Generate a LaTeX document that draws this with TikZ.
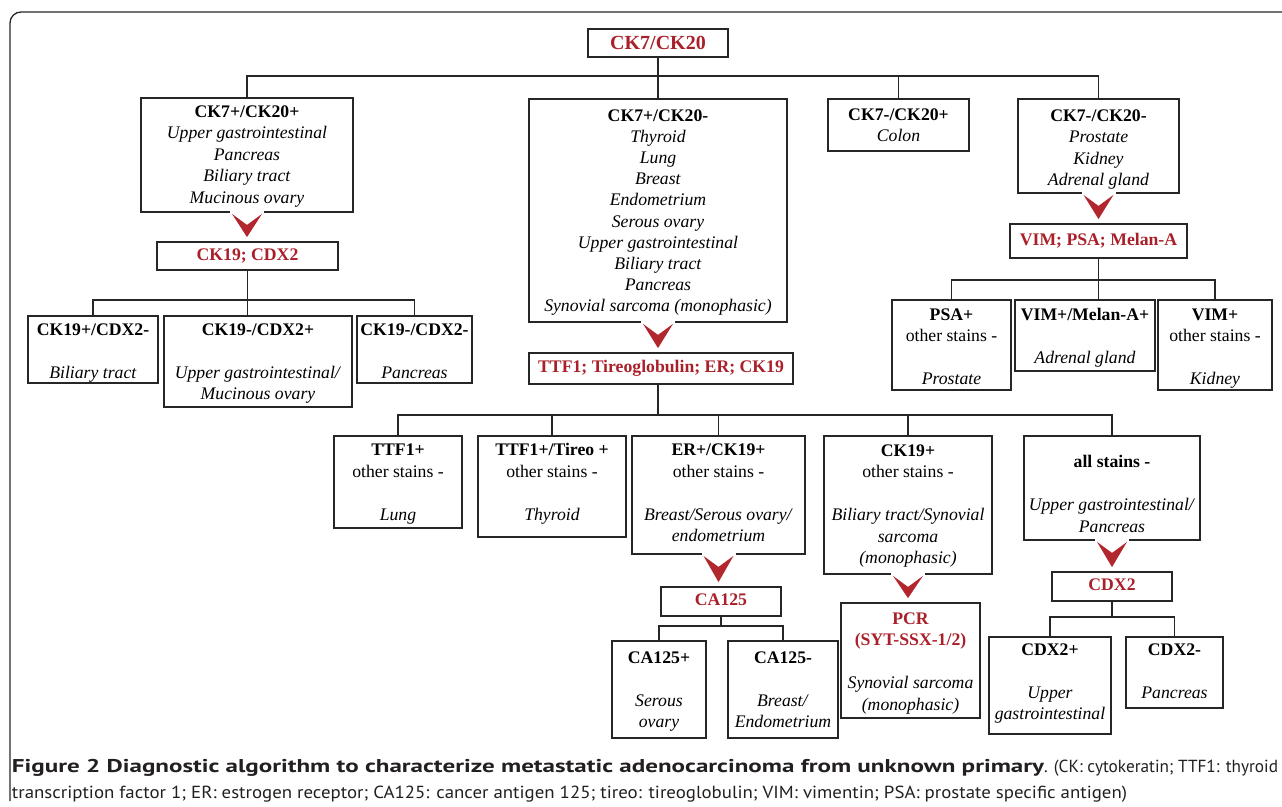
\documentclass[tikz,border=0pt]{standalone}
\usepackage{fontspec}
\setmainfont{Liberation Serif}
\newfontfamily\capfont{PT Sans}
\usetikzlibrary{calc}
\definecolor{rd}{RGB}{170,32,42}
\definecolor{chevc}{RGB}{178,38,46}
\definecolor{ln}{RGB}{38,38,38}
\definecolor{capc}{RGB}{35,31,32}
\newcommand\bt[4]{\node[txt] (#1) at (#2,#3-15.05) {\strut#4};}
\newcommand\chev[2]{%
  \fill[white] ($(#1.south)+(-17,-2.4)$) rectangle ($(#1.south)+(17,2.2)$);
  \fill[chevc] ($(#1.south)+(-15,1)$) -- ($(#1.south)+(0,12)$) -- ($(#1.south)+(15,1)$) -- ($(#1.south |- #2.north)+(0,-4)$) -- cycle;}
\begin{document}
\begin{tikzpicture}[x=1pt,y=-1pt,
  box/.style={draw=ln, line width=1.8pt, inner sep=0pt, rectangle},
  redtxt/.style={text=rd, font=\fontsize{17.7}{21.5}\selectfont\bfseries, text height=12pt, text depth=3.5pt},
  txt/.style={align=center, inner sep=0pt, outer sep=0pt, anchor=north, font=\fontsize{17.7}{21.5}\selectfont},
  captxt/.style={anchor=base west, inner sep=0pt, outer sep=0pt, text=capc, font=\capfont},
  conn/.style={draw=ln, line width=1.8pt, line cap=rect}]
\useasboundingbox (0,0) rectangle (1282,806);
% frame
\draw[ln, line width=1.3pt, rounded corners=11pt] (10,801) -- (10,12) -- (1300,12);
% boxes
\node[box, redtxt, font=\fontsize{20}{24}\selectfont\bfseries, text height=14pt, text depth=1pt, minimum width=140, minimum height=28] (root) at (658,43) {CK7/CK20};
\node[box, minimum width=212, minimum height=114] (A) at (247,155) {};
\node[box, minimum width=258, minimum height=223] (B) at (658,210.5) {};
\node[box, minimum width=141, minimum height=52] (C) at (898.5,125) {};
\node[box, minimum width=161, minimum height=94] (D) at (1098.5,146) {};
\node[box, redtxt, minimum width=181, minimum height=28] (A1) at (247.5,256) {CK19; CDX2};
\node[box, minimum width=130, minimum height=67] (A11) at (93,349.5) {};
\node[box, minimum width=188, minimum height=91] (A12) at (258,361.5) {};
\node[box, minimum width=115, minimum height=67] (A13) at (414.5,349.5) {};
\node[box, redtxt, minimum width=177, minimum height=34] (D1) at (1098.5,241) {VIM; PSA; Melan-A};
\node[box, minimum width=119, minimum height=90] (D11) at (951.5,345) {};
\node[box, minimum width=140, minimum height=71] (D12) at (1085,335.5) {};
\node[box, minimum width=114, minimum height=90] (D13) at (1215,345) {};
\node[box, redtxt, minimum width=264, minimum height=31] (B1) at (661,368.5) {TTF1; Tireoglobulin; ER; CK19};
\node[box, minimum width=128, minimum height=92] (E1) at (398,482) {};
\node[box, minimum width=148, minimum height=101] (E2) at (552,486.5) {};
\node[box, minimum width=173, minimum height=118] (E3) at (718.5,495) {};
\node[box, minimum width=168, minimum height=138] (E4) at (908,505) {};
\node[box, minimum width=176, minimum height=104] (E5) at (1112,488) {};
\node[box, redtxt, minimum width=120, minimum height=29] (F) at (721,601.5) {CA125};
\node[box, minimum width=94, minimum height=97] (F1) at (659,689.5) {};
\node[box, minimum width=110, minimum height=97] (F2) at (783,689.5) {};
\node[box, minimum width=139, minimum height=115] (G) at (910.5,660.5) {};
\node[box, redtxt, minimum width=120, minimum height=29] (H) at (1112,586.5) {CDX2};
\node[box, minimum width=122, minimum height=97] (H1) at (1050,685.5) {};
\node[box, minimum width=97, minimum height=71] (H2) at (1174.5,672.5) {};
% texts
\bt{tA}{247}{117}{\textbf{CK7+/CK20+}\\\textit{Upper gastrointestinal}\\\textit{Pancreas}\\\textit{Biliary tract}\\\textit{Mucinous ovary}}
\node[txt, font=\fontsize{17.7}{21.2}\selectfont] (tB) at (658,121-14.84) {\strut\textbf{CK7+/CK20-}\\\textit{Thyroid}\\\textit{Lung}\\\textit{Breast}\\\textit{Endometrium}\\\textit{Serous ovary}\\\textit{Upper gastrointestinal}\\\textit{Biliary tract}\\\textit{Pancreas}\\\textit{Synovial sarcoma (monophasic)}};
\bt{tC}{898.5}{120}{\textbf{CK7-/CK20+}\\\textit{Colon}}
\bt{tD}{1098.5}{121}{\textbf{CK7-/CK20-}\\\textit{Prostate}\\\textit{Kidney}\\\textit{Adrenal gland}}
\bt{tA11}{93}{335}{\textbf{CK19+/CDX2-}\\[21.5pt]\textit{Biliary tract}}
\bt{tA12}{258}{335}{\textbf{CK19-/CDX2+}\\[21.5pt]\textit{Upper gastrointestinal/}\\\textit{Mucinous ovary}}
\bt{tA13}{414.5}{335}{\textbf{CK19-/CDX2-}\\[21.5pt]\textit{Pancreas}}
\bt{tD11}{951.5}{320}{\textbf{PSA+}\\other stains -\\[21.5pt]\textit{Prostate}}
\bt{tD12}{1085}{320}{\textbf{VIM+/Melan-A+}\\[21.5pt]\textit{Adrenal gland}}
\bt{tD13}{1215}{320}{\textbf{VIM+}\\other stains -\\[21.5pt]\textit{Kidney}}
\bt{tE1}{398}{455.7}{\textbf{TTF1+}\\other stains -\\[21.5pt]\textit{Lung}}
\bt{tE2}{552}{455.7}{\textbf{TTF1+/Tireo +}\\other stains -\\[21.5pt]\textit{Thyroid}}
\bt{tE3}{718.5}{455.7}{\textbf{ER+/CK19+}\\other stains -\\[21.5pt]\textit{Breast/Serous ovary/}\\\textit{endometrium}}
\bt{tE4}{908}{456}{\textbf{CK19+}\\other stains -\\[21.5pt]\textit{Biliary tract/Synovial}\\\textit{sarcoma}\\\textit{(monophasic)}}
\bt{tE5}{1112}{467.7}{\textbf{all stains -}\\[21.5pt]\textit{Upper gastrointestinal/}\\\textit{Pancreas}}
\bt{tF1}{659}{663.3}{\textbf{CA125+}\\[21.5pt]\textit{Serous}\\\textit{ovary}}
\bt{tF2}{783}{663.3}{\textbf{CA125-}\\[21.5pt]\textit{Breast/}\\\textit{Endometrium}}
\bt{tG}{910.5}{624}{\textbf{\color{rd}PCR}\\\textbf{\color{rd}(SYT-SSX-1/2)}\\[21.5pt]\textit{Synovial sarcoma}\\\textit{(monophasic)}}
\bt{tH1}{1050}{655}{\textbf{CDX2+}\\[21.5pt]\textit{Upper}\\\textit{gastrointestinal}}
\bt{tH2}{1174.5}{655}{\textbf{CDX2-}\\[21.5pt]\textit{Pancreas}}
% buses
\coordinate (bus0) at (0,76);
\coordinate (busA) at (0,300);
\coordinate (busD) at (0,280);
\coordinate (busB) at (0,415);
\coordinate (busF) at (0,626);
\coordinate (busH) at (0,617);
% connectors
\draw[conn] (root.south) -- (root.south |- bus0);
\draw[conn] (A.north |- bus0) -- (D.north |- bus0);
\foreach \n in {A,B,C,D} \draw[conn] (\n.north) -- (\n.north |- bus0);
\draw[conn] (A1.south) -- (A1.south |- A12.north);
\draw[conn] (A11.north |- busA) -- (A13.north |- busA);
\foreach \n in {A11,A13} \draw[conn] (\n.north) -- (\n.north |- busA);
\draw[conn] (D1.south) -- (D1.south |- D12.north);
\draw[conn] (D11.north |- busD) -- (D13.north |- busD);
\foreach \n in {D11,D13} \draw[conn] (\n.north) -- (\n.north |- busD);
\draw[conn] (B.south |- B1.south) -- (B.south |- busB);
\draw[conn] (E1.north |- busB) -- (E5.north |- busB);
\foreach \n in {E1,E2,E3,E4,E5} \draw[conn] (\n.north) -- (\n.north |- busB);
\draw[conn] (F.south) -- (F.south |- busF);
\draw[conn] (F1.north |- busF) -- (F2.north |- busF);
\foreach \n in {F1,F2} \draw[conn] (\n.north) -- (\n.north |- busF);
\draw[conn] (H.south) -- (H.south |- busH);
\draw[conn] (H1.north |- busH) -- (H2.north |- busH);
\foreach \n in {H1,H2} \draw[conn] (\n.north) -- (\n.north |- busH);
% chevrons
\chev{A}{A1}
\chev{B}{B1}
\chev{D}{D1}
\chev{E3}{F}
\chev{E4}{G}
\chev{E5}{H}
% caption
\node[captxt] (cap1) at (12,772) {\resizebox{1032pt}{\height}{\fontsize{18.5}{22}\selectfont\bfseries Figure 2 Diagnostic algorithm to characterize metastatic adenocarcinoma from unknown primary}\resizebox{234pt}{\height}{\fontsize{17.5}{22}\selectfont . (CK: cytokeratin; TTF1: thyroid}};
\node[captxt] (cap2) at (12,798) {\resizebox{1115pt}{\height}{\fontsize{17.5}{22}\selectfont transcription factor 1; ER: estrogen receptor; CA125: cancer antigen 125; tireo: tireoglobulin; VIM: vimentin; PSA: prostate specific antigen)}};
\end{tikzpicture}
\end{document}
